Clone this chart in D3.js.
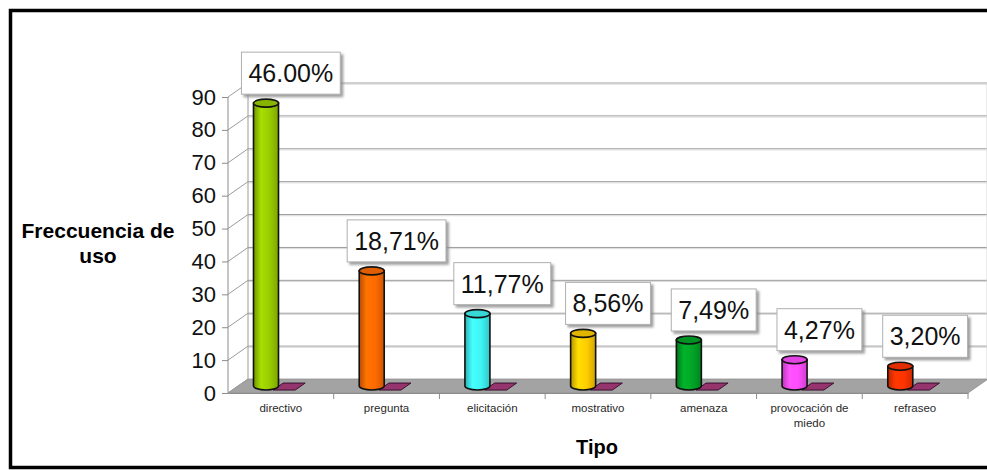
<!DOCTYPE html>
<html>
<head>
<meta charset="utf-8">
<script src="https://cdn.jsdelivr.net/npm/d3@7/dist/d3.min.js"></script>
<style>
  html, body { margin: 0; padding: 0; background: #fff; }
  svg { display: block; font-family: "Liberation Sans", Arial, sans-serif; }
</style>
</head>
<body>
<svg id="chart" width="987" height="470"></svg>
<script>
// Frecuencia de uso por tipo
const categories = ["directivo", "pregunta", "elicitación", "mostrativo", "amenaza", "provocación de miedo", "refraseo"];
const frequencies = [86, 35, 22, 16, 14, 8, 6];
const percentLabels = ["46.00%", "18,71%", "11,77%", "8,56%", "7,49%", "4,27%", "3,20%"];
const secondSeries = [0, 0, 0, 0, 0, 0, 0];
const barColors = ["#99cc00", "#ff6a00", "#3ff4f4", "#ffcc00", "#00a526", "#ff4dff", "#ff3300"];
const yTicks = [0, 10, 20, 30, 40, 50, 60, 70, 80, 90];
const yTitle = ["Freccuencia de", "uso"];
const xTitle = "Tipo";

const svg = d3.select("#chart");
const W = 987, H = 470;

// 3-D projection: depth shifts right and up
const DX = 20, DY = -14;
const x0 = 228, x1 = 968;

const x = d3.scaleBand().domain(categories).range([x0, x1]);
const inner = d3.scaleBand().domain(["freq", "second"]).range([15, 67]);
const y = d3.scaleLinear().domain([0, 90]).range([393, 97]);

const defs = svg.append("defs");
defs.append("filter").attr("id", "shadow").attr("x", "-20%").attr("y", "-20%").attr("width", "140%").attr("height", "150%")
  .append("feDropShadow").attr("dx", 2.5).attr("dy", 2.5).attr("stdDeviation", 1.3)
  .attr("flood-color", "#888").attr("flood-opacity", 0.8);

// outer frame
svg.append("rect").attr("x", 10.5).attr("y", 10.5).attr("width", 990).attr("height", 457)
  .attr("fill", "#fff").attr("stroke", "#000").attr("stroke-width", 3.5);

const g = svg.append("g");

// floor
const floor = [[x0, y(0)], [x1, y(0)], [x1 + DX, y(0) + DY], [x0 + DX, y(0) + DY]];
g.append("polygon").attr("points", floor.map(p => p.join(",")).join(" "))
  .attr("fill", "#a3a3a3").attr("stroke", "#8f8f8f").attr("stroke-width", 0.8);

// back wall gridlines
yTicks.filter(v => v > 0).forEach(v => {
  const yy = y(v) + DY;
  g.append("line").attr("x1", x0 + DX).attr("x2", x1 + DX + 2).attr("y1", yy).attr("y2", yy)
    .attr("stroke", "#9c9c9c").attr("stroke-width", 1);
  g.append("line").attr("x1", x0 + DX).attr("x2", x1 + DX + 2).attr("y1", yy + 1.2).attr("y2", yy + 1.2)
    .attr("stroke", "#dadada").attr("stroke-width", 1);
});
// back wall edges
g.append("line").attr("x1", x0 + DX).attr("x2", x0 + DX).attr("y1", y(0) + DY).attr("y2", y(90) + DY)
  .attr("stroke", "#9c9c9c").attr("stroke-width", 1);
g.append("line").attr("x1", x1 + DX - 1).attr("x2", x1 + DX - 1).attr("y1", y(0) + DY).attr("y2", y(90) + DY)
  .attr("stroke", "#d6d6d6").attr("stroke-width", 1);

// side wall diagonals
yTicks.forEach(v => {
  g.append("line").attr("x1", x0).attr("y1", y(v)).attr("x2", x0 + DX).attr("y2", y(v) + DY)
    .attr("stroke", "#9c9c9c").attr("stroke-width", 1);
});

// front value axis
g.append("line").attr("x1", x0).attr("x2", x0).attr("y1", y(0)).attr("y2", y(90))
  .attr("stroke", "#8c8c8c").attr("stroke-width", 1);
const yAxis = d3.axisLeft(y).tickValues(yTicks).tickSize(6).tickPadding(6);
const ya = g.append("g").attr("transform", `translate(${x0},0)`).call(yAxis);
ya.select(".domain").remove();
ya.selectAll(".tick line").attr("stroke", "#8c8c8c");
ya.selectAll(".tick text").attr("font-size", 22).attr("fill", "#111")
  .attr("font-family", "Liberation Sans, Arial, sans-serif");

// category axis
const xa = g.append("g").attr("transform", `translate(0,${y(0)})`)
  .call(d3.axisBottom(x).tickSize(0).tickPadding(0));
xa.select(".domain").attr("stroke", "#8c8c8c");
xa.selectAll(".tick text").remove();
categories.forEach((c, i) => {
  const bx = x(c) + x.bandwidth();
  g.append("line").attr("x1", bx).attr("x2", bx).attr("y1", y(0)).attr("y2", y(0) + 6)
    .attr("stroke", "#8c8c8c").attr("stroke-width", 1);
});
// category labels (wrapped at a fixed width)
categories.forEach(c => {
  const cx = x(c) + x.bandwidth() / 2;
  const lines = c === "provocación de miedo" ? ["provocación de", "miedo"] : [c];
  const t = g.append("text").attr("text-anchor", "middle").attr("font-size", 11.5).attr("fill", "#2a2a2a");
  lines.forEach((ln, k) => t.append("tspan").attr("x", cx).attr("y", 412 + k * 14.5).text(ln));
});

// second (zero-valued) series: flat plates on the floor
const d0 = 0.21, d1 = 0.71;
categories.forEach((c, i) => {
  const xl = x(c) + inner("second");
  const xr = xl + inner.bandwidth() - 4;
  const yb = y(secondSeries[i]);
  const pts = [[xl + d0 * DX, yb + d0 * DY], [xr + d0 * DX, yb + d0 * DY],
               [xr + d1 * DX, yb + d1 * DY], [xl + d1 * DX, yb + d1 * DY]];
  g.append("polygon").attr("points", pts.map(p => p.join(",")).join(" "))
    .attr("fill", "#96346e").attr("stroke", "#3a1030").attr("stroke-width", 1);
});

// cylinders
const rx = 12.5, ry = 4;
categories.forEach((c, i) => {
  const col = d3.color(barColors[i]);
  const gid = "cyl" + i;
  const grad = defs.append("linearGradient").attr("id", gid).attr("x1", "0%").attr("x2", "100%");
  grad.append("stop").attr("offset", "0%").attr("stop-color", col.darker(0.9));
  grad.append("stop").attr("offset", "30%").attr("stop-color", col.brighter(0.25));
  grad.append("stop").attr("offset", "65%").attr("stop-color", col);
  grad.append("stop").attr("offset", "100%").attr("stop-color", col.darker(0.6));

  const cx = x(c) + inner("freq") + inner.bandwidth() / 2 + DX / 2;
  const yBase = y(0) + DY / 2;
  const yTop = y(frequencies[i]) + DY / 2;
  const body = `M${cx - rx},${yTop} L${cx - rx},${yBase} A${rx},${ry} 0 0 0 ${cx + rx},${yBase} L${cx + rx},${yTop} Z`;
  g.append("path").attr("d", body).attr("fill", `url(#${gid})`)
    .attr("stroke", "#111").attr("stroke-width", 1.6);
  g.append("ellipse").attr("cx", cx).attr("cy", yTop).attr("rx", rx).attr("ry", ry)
    .attr("fill", col.darker(0.35)).attr("stroke", "#111").attr("stroke-width", 1.6);
});

// percentage labels
categories.forEach((c, i) => {
  const cx = x(c) + x.bandwidth() / 2 + 10;
  const cy = y(frequencies[i]) + DY / 2 - 30;
  const lg = g.append("g");
  const txt = lg.append("text").attr("x", cx).attr("y", cy).attr("text-anchor", "middle")
    .attr("dominant-baseline", "central").attr("font-size", 25).attr("fill", "#111")
    .text(percentLabels[i]);
  const w = txt.node().getComputedTextLength() + 14, h = 42;
  lg.insert("rect", "text").attr("x", cx - w / 2).attr("y", cy - h / 2).attr("width", w).attr("height", h)
    .attr("fill", "#fff").attr("stroke", "#b0b0b0").attr("stroke-width", 1).attr("filter", "url(#shadow)");
});

// axis titles
const yt = svg.append("text").attr("text-anchor", "middle").attr("font-size", 21).attr("font-weight", "bold").attr("fill", "#000");
yTitle.forEach((ln, k) => yt.append("tspan").attr("x", 98).attr("y", 238 + k * 25).text(ln));
svg.append("text").attr("x", 597).attr("y", 454).attr("text-anchor", "middle")
  .attr("font-size", 20).attr("font-weight", "bold").attr("fill", "#000").text(xTitle);
</script>
</body>
</html>
